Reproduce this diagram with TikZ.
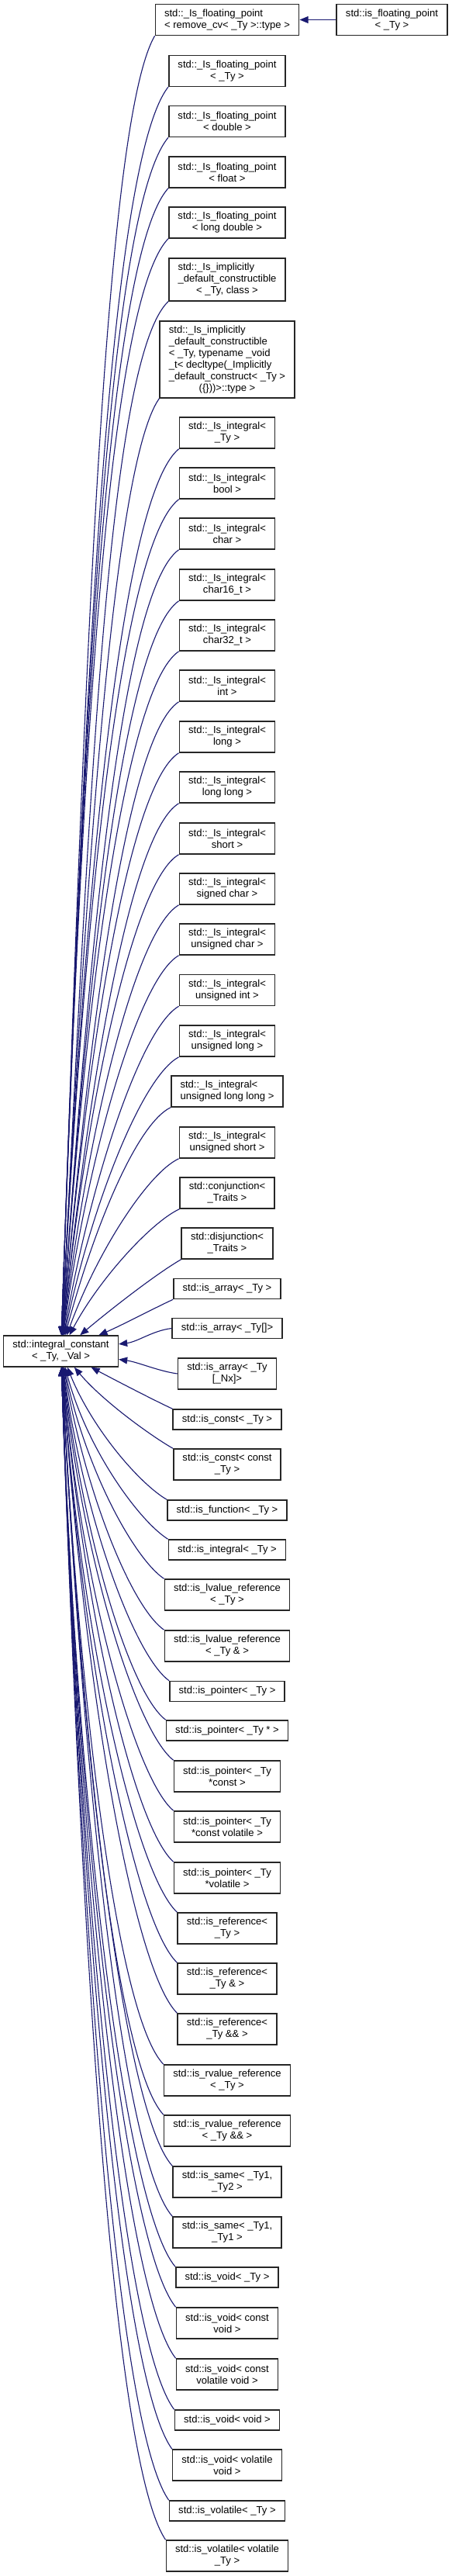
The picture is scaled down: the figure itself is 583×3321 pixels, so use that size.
\documentclass[tikz,border=0pt]{standalone}
\usepackage{fontspec}
\setmainfont{Liberation Sans}
\usetikzlibrary{arrows.meta}
\definecolor{edgeblue}{RGB}{25,25,112}

\tikzset{
  cls/.style={draw=black!85, line width=1.2pt, fill=white, align=left,
    font=\fontsize{10}{11.5}\selectfont, inner xsep=9pt, inner ysep=0pt,
    minimum height=30.6pt},
  cls1/.style={cls, minimum height=19.9pt},
  inh/.style={draw=edgeblue, line width=0.85pt, -{Triangle[length=8.5pt,width=6.8pt]}}
}

\begin{document}
\begin{tikzpicture}[x=0.766pt,y=0.766pt]
\useasboundingbox (0,0) rectangle (583,-3321);

\node[cls] (root) at (78.5,-1742) {std::integral\_constant\\\hfil< \_Ty, \_Val >};
\node[cls] (fp) at (505.5,-25.5) {std::is\_floating\_point\\\hfil< \_Ty >};

\node[cls] (fpr) at (293,-25.5) {std::\_Is\_floating\_point\\\hfil< remove\_cv< \_Ty >::type >};
\node[cls] (fpty) at (293,-91.4) {std::\_Is\_floating\_point\\\hfil< \_Ty >};
\node[cls] (fpdbl) at (293,-156.6) {std::\_Is\_floating\_point\\\hfil< double >};
\node[cls] (fpflt) at (293,-222) {std::\_Is\_floating\_point\\\hfil< float >};
\node[cls] (fpld) at (293,-287) {std::\_Is\_floating\_point\\\hfil< long double >};
\node[cls, minimum height=42pt] (impl) at (293,-360.5) {std::\_Is\_implicitly\\\_default\_constructible\\\hfil< \_Ty, class >};
\node[cls, minimum height=75.8pt] (implv) at (293,-463.5) {std::\_Is\_implicitly\\\_default\_constructible\\< \_Ty, typename \_void\\\_t< decltype(\_Implicitly\\\_default\_construct< \_Ty >\\\hfil(\{\}))>::type >};
\node[cls] (intty) at (293,-558) {std::\_Is\_integral<\\\hfil\_Ty >};
\node[cls] (ibool) at (293,-623) {std::\_Is\_integral<\\\hfil bool >};
\node[cls] (ichar) at (293,-688) {std::\_Is\_integral<\\\hfil char >};
\node[cls] (ic16) at (293,-754) {std::\_Is\_integral<\\\hfil char16\_t >};
\node[cls] (ic32) at (293,-819) {std::\_Is\_integral<\\\hfil char32\_t >};
\node[cls] (iint) at (293,-884) {std::\_Is\_integral<\\\hfil int >};
\node[cls] (ilong) at (293,-950) {std::\_Is\_integral<\\\hfil long >};
\node[cls] (ill) at (293,-1015) {std::\_Is\_integral<\\\hfil long long >};
\node[cls] (ishort) at (293,-1081) {std::\_Is\_integral<\\\hfil short >};
\node[cls] (isc) at (293,-1146) {std::\_Is\_integral<\\\hfil signed char >};
\node[cls] (iuc) at (293,-1211) {std::\_Is\_integral<\\\hfil unsigned char >};
\node[cls] (iui) at (293,-1276.5) {std::\_Is\_integral<\\\hfil unsigned int >};
\node[cls] (iul) at (293,-1342) {std::\_Is\_integral<\\\hfil unsigned long >};
\node[cls] (iull) at (293,-1407) {std::\_Is\_integral<\\\hfil unsigned long long >};
\node[cls] (ius) at (293,-1473) {std::\_Is\_integral<\\\hfil unsigned short >};
\node[cls] (conj) at (293,-1538) {std::conjunction<\\\hfil\_Traits >};
\node[cls] (disj) at (293,-1603) {std::disjunction<\\\hfil\_Traits >};
\node[cls1] (arr) at (293,-1661.5) {std::is\_array< \_Ty >};
\node[cls1] (arrb) at (293,-1712.5) {std::is\_array< \_Ty[]>};
\node[cls] (arrn) at (293,-1771) {std::is\_array< \_Ty\\\hfil[\_Nx]>};
\node[cls1] (cnst) at (293,-1830) {std::is\_const< \_Ty >};
\node[cls] (cnstc) at (293,-1888) {std::is\_const< const\\\hfil\_Ty >};
\node[cls1] (func) at (293,-1947) {std::is\_function< \_Ty >};
\node[cls1] (integ) at (293,-1998) {std::is\_integral< \_Ty >};
\node[cls] (lvr) at (293,-2056) {std::is\_lvalue\_reference\\\hfil< \_Ty >};
\node[cls] (lvra) at (293,-2122) {std::is\_lvalue\_reference\\\hfil< \_Ty \& >};
\node[cls1] (ptr) at (293,-2180.5) {std::is\_pointer< \_Ty >};
\node[cls1] (ptrs) at (293,-2231) {std::is\_pointer< \_Ty * >};
\node[cls] (ptrc) at (293,-2290) {std::is\_pointer< \_Ty\\\hfil*const >};
\node[cls] (ptrcv) at (293,-2355) {std::is\_pointer< \_Ty\\\hfil*const volatile >};
\node[cls] (ptrv) at (293,-2421) {std::is\_pointer< \_Ty\\\hfil*volatile >};
\node[cls] (ref) at (293,-2486) {std::is\_reference<\\\hfil\_Ty >};
\node[cls] (refa) at (293,-2551) {std::is\_reference<\\\hfil\_Ty \& >};
\node[cls] (refaa) at (293,-2616) {std::is\_reference<\\\hfil\_Ty \&\& >};
\node[cls] (rvr) at (293,-2682) {std::is\_rvalue\_reference\\\hfil< \_Ty >};
\node[cls] (rvraa) at (293,-2747) {std::is\_rvalue\_reference\\\hfil< \_Ty \&\& >};
\node[cls] (same2) at (293,-2813) {std::is\_same< \_Ty1,\\\hfil\_Ty2 >};
\node[cls] (same1) at (293,-2878) {std::is\_same< \_Ty1,\\\hfil\_Ty1 >};
\node[cls1] (void) at (293,-2936) {std::is\_void< \_Ty >};
\node[cls] (voidc) at (293,-2995) {std::is\_void< const\\\hfil void >};
\node[cls] (voidcv) at (293,-3061) {std::is\_void< const\\\hfil volatile void >};
\node[cls1] (voidv) at (293,-3120) {std::is\_void< void >};
\node[cls] (voidvo) at (293,-3178) {std::is\_void< volatile\\\hfil void >};
\node[cls1] (vol) at (293,-3237) {std::is\_volatile< \_Ty >};
\node[cls] (volv) at (293,-3295) {std::is\_volatile< volatile\\\hfil\_Ty >};

\draw[inh] (fp) -- (fpr);

\foreach \n/\a/\o/\i/\od/\id in {
  fpr/south west/240/88/130/838, fpty/south west/232/88/127/805,
  fpdbl/south west/230/88/123/773, fpflt/south west/228/88/119/740,
  fpld/south west/226/88/115/707, impl/south west/224/87/110/667,
  implv/south west/235/87/103/604, intty/south west/220/87/99/572,
  ibool/south west/218/87/95/540, ichar/south west/216/86/91/507,
  ic16/south west/215/86/87/474, ic32/south west/214/86/83/441,
  iint/south west/213/85/79/408, ilong/south west/212/85/75/376,
  ill/south west/211/84/71/343, ishort/south west/210/84/67/310,
  isc/south west/210/83/63/278, iuc/south west/210/82/59/245,
  iui/south west/210/80/55/212, iul/south west/208/78/52/180,
  iull/south west/206/75/48/147, ius/south west/205/70/44/114,
  conj/south west/205/62/40/82, disj/south west/210/40/36/55,
  arr/south west/205/23/30/30, arrb/west/187/7/25/25,
  arrn/west/172/-8/25/25, cnst/north west/155/-28/30/30,
  cnstc/north west/150/-50/36/55, func/north west/150/-68/40/86,
  integ/north west/148/-75/43/111, lvr/north west/146/-78/46/137,
  lvra/north west/145/-80/50/170, ptr/north west/144/-82/54/203,
  ptrs/north west/143/-83/57/228, ptrc/north west/142/-84/60/254,
  ptrcv/north west/140/-85/64/286, ptrv/north west/138/-85/68/320,
  ref/north west/137/-86/72/352, refa/north west/136/-86/76/384,
  refaa/north west/135/-86/80/417, rvr/north west/134/-87/84/450,
  rvraa/north west/133/-87/88/482, same2/north west/132/-87/92/515,
  same1/north west/131/-87/96/548, void/north west/130/-88/100/581,
  voidc/north west/129/-88/103/606, voidcv/north west/128/-88/107/640,
  voidv/north west/127/-88/111/672, voidvo/north west/126/-88/114/698,
  vol/north west/125/-88/118/731, volv/north west/124/-88/121/756}
{
  \pgfmathsetmacro\odd{0.766*\od}
  \pgfmathsetmacro\idd{0.766*\id}
  \draw[inh] (\n.\a) .. controls +(\o:\odd pt) and +(\i:\idd pt) .. (root.\i);
}
\end{tikzpicture}
\end{document}
